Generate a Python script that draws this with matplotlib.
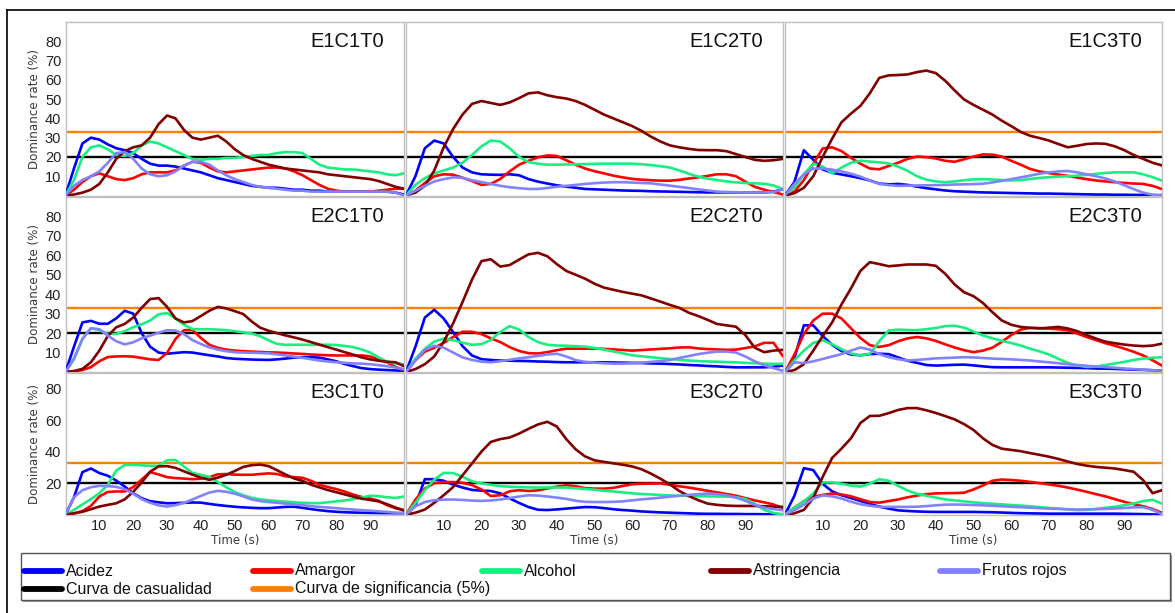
import matplotlib
matplotlib.use("Agg")
import matplotlib.pyplot as plt
import numpy as np
from matplotlib.lines import Line2D
from matplotlib.patches import Rectangle

plt.rcParams["font.family"] = ["Liberation Sans", "DejaVu Sans"]

# sampling grid of the TDS curves (s)
TIME = np.arange(0, 100.1, 2.5)

ATTRIBUTES = ["Acidez", "Amargor", "Alcohol", "Astringencia", "Frutos rojos"]
COLORS = ["#0000ff", "#ff0000", "#19ee80", "#800000", "#8282ff"]
CHANCE_LEVEL = 20
SIGNIF_LEVEL = 33
CHANCE_LABEL = "Curva de casualidad"
SIGNIF_LABEL = "Curva de significancia (5%)"

Y_TICKS_FULL = [10, 20, 30, 40, 50, 60, 70, 80]
Y_TICKS_SHORT = [20, 40, 60, 80]
X_TICKS = [10, 20, 30, 40, 50, 60, 70, 80, 90]

# dominance rate (%) per attribute, one value every 2.5 s from 0 to 100 s
E1C1T0 = {
  "Acidez": [0, 14, 27, 30, 29, 26.5, 24.5, 23.5, 22, 19, 16.5, 15.5, 15.5, 15, 14, 13, 12, 10.5, 9, 8, 7, 6, 5, 4.5, 4, 4, 3.5, 3, 3, 2.5, 2.5, 2, 2, 2, 2, 2, 2, 2, 2, 1.5, 0.5],
  "Amargor": [0, 3, 7, 10, 11.5, 10, 8.5, 8, 9, 11, 12, 12, 12, 13, 15.5, 17.5, 17, 14.5, 12.5, 12, 12.5, 13, 13.5, 14, 14.5, 14.5, 14, 12.5, 10.5, 8, 5.5, 3.5, 2.5, 2, 2, 2, 2, 2.5, 3, 3.5, 3.5],
  "Alcohol": [0, 8, 20, 25, 26, 24, 21, 20.5, 22, 26, 28, 27, 25, 23, 21, 19, 18.5, 19, 19, 19.5, 19.5, 20, 20.5, 21, 21, 22, 22.5, 22.5, 22, 19, 16, 14.5, 14, 13.5, 13.5, 13, 12.5, 12, 11, 10.5, 11.5],
  "Astringencia": [0, 0.5, 1.5, 3, 6, 12, 19, 23, 25, 26, 30, 37, 41.5, 40, 34, 30, 29, 30, 31, 28, 24, 21, 19, 17.5, 16, 15, 14, 13.5, 13, 12.5, 12, 11, 10.5, 10, 9.5, 9, 8.5, 7.5, 6, 4.5, 3.5],
  "Frutos rojos": [0, 5, 8, 10, 12.5, 17, 22, 22.5, 19, 14, 11, 10, 10.5, 12.5, 15.5, 17.5, 17.5, 16, 13, 10.5, 8.5, 7, 5.5, 4.5, 4, 3.5, 3, 2.5, 2.5, 2, 2, 2, 2, 2, 2, 2, 2, 2, 2, 1.5, 0],
}
E1C2T0 = {
  "Acidez": [0, 10, 24.5, 28.5, 27, 20, 14.5, 12, 11, 10.8, 10.7, 11, 10.5, 8.5, 7.2, 6.2, 5.3, 4.6, 4, 3.4, 3.2, 3, 2.8, 2.6, 2.5, 2.4, 2.2, 2.1, 2, 1.9, 1.8, 1.7, 1.6, 1.6, 1.6, 1.6, 1.6, 1.6, 1.6, 2, 3.3],
  "Amargor": [0, 2.5, 6.5, 10, 11, 10.8, 9.2, 7.5, 5.5, 6, 8.6, 12.5, 16, 18, 19.8, 20.8, 20.5, 18.3, 16, 14, 12.6, 11.5, 10.3, 9.4, 8.6, 8.2, 7.9, 7.7, 7.7, 8.1, 8.8, 9.4, 10.2, 11, 11, 10, 7.2, 4.5, 3, 1.8, 0.5],
  "Alcohol": [0, 5.5, 9, 11.5, 13, 14.5, 17, 21, 25.5, 28.5, 28, 24.5, 20, 17.3, 16.5, 16, 16, 16.1, 16.2, 16.3, 16.4, 16.5, 16.5, 16.5, 16.5, 16.2, 15.8, 15.2, 14.5, 13, 11.3, 9.8, 8.8, 8, 7.3, 6.8, 6.5, 6.3, 6.1, 5.2, 3.3],
  "Astringencia": [0, 1.5, 5, 13, 25, 34.5, 42, 47.5, 49, 48, 47, 48.3, 50.5, 53, 53.5, 52, 51, 50.3, 49, 47, 44.5, 42, 40, 38, 36, 33.5, 30.5, 28, 26, 25, 24.2, 23.6, 23.5, 23.5, 23, 21.5, 20, 18.5, 18, 18.3, 19],
  "Frutos rojos": [0, 2.5, 5, 7.3, 8.5, 9.4, 9.2, 7.9, 7, 6, 5, 4.3, 3.8, 3.4, 3.4, 3.9, 4.5, 5, 5.5, 6, 6.4, 6.7, 6.9, 6.9, 6.7, 6.5, 6.3, 5.7, 5.1, 4.5, 3.9, 3.2, 2.6, 2, 1.8, 1.7, 1.6, 1.6, 1.6, 1.8, 3.3],
}
E1C3T0 = {
  "Acidez": [0, 7, 23.5, 18.5, 13.5, 11.8, 10.9, 10, 9, 7.8, 6.2, 5.8, 6, 5.5, 4.6, 3.8, 3.2, 2.6, 2.2, 2, 1.8, 1.6, 1.5, 1.4, 1.3, 1.2, 1.1, 1, 1, 0.9, 0.8, 0.7, 0.6, 0.5, 0.5, 0.4, 0.4, 0.3, 0.3, 0.2, 0.2],
  "Amargor": [0, 2, 8, 16.5, 24.4, 25, 23, 19.5, 16.5, 14, 13.6, 15.3, 17, 19, 20.2, 19.9, 19.2, 18, 17.5, 18.8, 20.2, 21.3, 21.2, 20.2, 18, 16, 13.8, 12.5, 11.6, 10.8, 10.2, 9.3, 8.5, 7.8, 7.3, 6.9, 6.5, 6.2, 6, 5, 3.3],
  "Alcohol": [0, 4, 11, 16.5, 15, 11.5, 14.5, 17, 18, 17.6, 17.2, 16.6, 15, 12.8, 10, 8.2, 7.3, 6.9, 7.3, 7.9, 8.4, 8.5, 8.3, 8, 7.8, 8, 8.6, 9.1, 9.5, 9.8, 10, 10.3, 10.7, 11.2, 11.7, 12, 12, 12, 11, 9.5, 7.7],
  "Astringencia": [0, 1.2, 4, 10, 20, 29.5, 38, 42.5, 46.5, 53, 61, 62.3, 62.5, 62.8, 64, 64.8, 63.5, 59.5, 54.5, 49.8, 47, 44.5, 42, 38.8, 36, 33, 31, 29.8, 28.5, 26.7, 25, 25.8, 26.7, 27, 26.8, 25.5, 23.5, 21, 19, 17, 15.6],
  "Frutos rojos": [0, 6, 11, 14, 14, 13.4, 12.5, 11.3, 9.8, 7.8, 6, 5.4, 5, 5.1, 5.2, 5.3, 5.4, 5.5, 5.7, 5.8, 5.9, 6.1, 6.8, 7.6, 8.5, 9.4, 10.3, 11.3, 12, 12.5, 12.7, 12, 11, 10, 8.8, 7.3, 5.3, 3.3, 1.5, 0.4, 0],
}
E2C1T0 = {
  "Acidez": [0, 13, 25.5, 26.3, 24.8, 24.8, 27.6, 31.5, 30, 20, 13, 10, 9.4, 9.8, 10.2, 10, 9.3, 8.6, 8, 7.2, 6.8, 6.6, 6.4, 6.3, 6.2, 6.5, 6.9, 7.4, 7.6, 7.6, 7.4, 6.5, 5.5, 4.1, 3, 2, 1.5, 1.2, 1, 0.8, 0.5],
  "Amargor": [0, 0.3, 1, 2.5, 5.5, 7.7, 8, 8.1, 7.9, 7.2, 6.5, 6.2, 9.8, 17, 21.5, 21.7, 17.5, 14, 12.4, 11.5, 11, 10.7, 10.5, 10.3, 10.1, 10, 9.8, 9.5, 9.3, 9, 8.8, 8.6, 8.5, 8.5, 8.5, 8.5, 8, 6.5, 5, 2.6, 1],
  "Alcohol": [0, 6.5, 17, 22.5, 21.5, 19.6, 19.6, 21, 23, 24.5, 26.5, 29.7, 30.3, 27.5, 24.3, 22.1, 22, 22, 21.8, 21.5, 21, 20.4, 19.8, 18.4, 16.3, 14.4, 14, 14, 14, 14, 14, 14, 13.9, 13.4, 12.8, 11.6, 10, 7.5, 5.2, 4.4, 4],
  "Astringencia": [0, 0.5, 1.6, 5, 11, 18.5, 23, 24.7, 28, 33, 37.5, 38, 33.5, 27.5, 25.5, 26.2, 28.8, 31.5, 33.5, 32.7, 31.3, 29.8, 26, 22.8, 21.2, 20, 18.8, 17.8, 16.7, 15.4, 14.1, 12.8, 11.5, 10.2, 8.9, 7.5, 6.5, 5.8, 5.3, 5, 3],
  "Frutos rojos": [0, 7, 17, 22.5, 22, 18.7, 15.8, 14.2, 15.3, 17.3, 18.7, 20.2, 21.5, 21.3, 19.5, 16.4, 14.4, 12.7, 11.5, 10.7, 10.2, 10, 9.9, 9.8, 9.6, 9.1, 8.5, 7.9, 7.3, 6.6, 5.9, 5.4, 5, 4.7, 4.4, 4.3, 4, 3.5, 3, 2.3, 1.5],
}
E2C2T0 = {
  "Acidez": [0, 13, 28, 32, 27.5, 20.5, 13.3, 8.5, 6.6, 6.2, 5.9, 5.8, 5.7, 5.6, 5.4, 5.3, 5.1, 5, 5, 5, 5, 5, 4.9, 4.8, 4.7, 4.6, 4.4, 4.3, 4.1, 3.9, 3.6, 3.4, 3.1, 2.9, 2.6, 2.4, 2.4, 2.4, 2.4, 2.7, 3.3],
  "Amargor": [0, 6, 10.5, 12.5, 15, 18, 20.7, 20.7, 19.5, 17.3, 15.4, 12.8, 10.8, 9.7, 9.5, 10.2, 11.2, 12, 12, 12, 12, 11.9, 11.6, 11.3, 11, 11.3, 11.6, 11.9, 12.2, 12.6, 12.7, 12.1, 11.8, 11.6, 11.4, 11.5, 12.3, 13.2, 15, 15, 8],
  "Alcohol": [0, 6.8, 12, 15.6, 17.2, 16.3, 15.1, 14, 14.3, 16.5, 20.6, 23.6, 21.8, 18, 15.4, 14, 13.6, 13.5, 13.3, 13, 12.4, 11.5, 10.6, 9.6, 8.6, 8.1, 7.6, 7.1, 6.7, 6.3, 5.9, 5.6, 5.4, 5.3, 5.1, 5, 4.7, 4.5, 4.3, 4.2, 4.2],
  "Astringencia": [0, 1.5, 4, 8, 15.5, 25, 36, 47.5, 57, 58, 54.2, 55, 57.8, 60.5, 61.3, 59.5, 55.5, 52, 50, 48, 45.4, 43.4, 42.3, 41.2, 40.3, 39.4, 37.8, 36.2, 34.5, 33, 30.5, 28.8, 26.8, 24.7, 24, 23.3, 19, 12.5, 10.2, 11, 11.4],
  "Frutos rojos": [0, 6, 11.5, 13.5, 12.5, 10, 7.5, 6.2, 5.3, 5, 5.5, 6.3, 7, 7.6, 8.3, 9, 9.4, 8, 6.1, 5.2, 4.8, 4.5, 4.3, 4.3, 4.5, 4.8, 5.2, 5.6, 6.2, 7.2, 8.2, 9.2, 9.9, 10.5, 10.5, 10, 8, 5.5, 3.5, 2, 0.6],
}
E2C3T0 = {
  "Acidez": [0, 7, 24, 24, 18.5, 14, 10.7, 9, 8.6, 9.2, 9.4, 9.2, 7.5, 5.8, 4.7, 3.6, 3.3, 3.5, 3.7, 3.8, 3.4, 2.9, 2.5, 2.4, 2.4, 2.4, 2.4, 2.4, 2.4, 2.3, 2.2, 2.1, 2, 1.8, 1.7, 1.6, 1.4, 1.2, 1.1, 0.9, 0.7],
  "Amargor": [0, 9, 19.5, 26.5, 30, 30, 27.5, 22.5, 17.5, 13.8, 12.9, 13.8, 15.8, 17.3, 18, 17.3, 16, 14.2, 12.6, 11.2, 10.2, 11, 12.5, 15.5, 19, 21.8, 22.7, 22.6, 22.3, 22, 21.4, 19.8, 18, 16.4, 14.8, 13.5, 12, 10.4, 8.5, 6, 3.3],
  "Alcohol": [0, 6, 11, 15, 16.3, 14.3, 11.7, 9.5, 8.5, 9.4, 15.8, 21.3, 21.8, 21.6, 21.5, 22, 22.6, 23.6, 23.8, 22.8, 20.8, 18.8, 17.3, 16, 14.9, 13.6, 12, 10.6, 9, 6.8, 4.7, 3.4, 2.6, 2.7, 3.6, 4.4, 5.2, 6.2, 6.9, 7.3, 7.6],
  "Astringencia": [0, 1, 4, 11, 18.5, 25.5, 34.8, 43, 52, 56.5, 55.5, 54.4, 54.8, 55.3, 55.3, 55.3, 54.6, 50.5, 45, 41, 39, 35.5, 30.8, 26.5, 24.3, 23.2, 22.7, 22.4, 22.8, 23.2, 22.4, 21, 19, 17.2, 15.6, 14.8, 14.1, 13.6, 13.3, 13.6, 14.6],
  "Frutos rojos": [0, 5, 4.6, 5.5, 6.7, 8, 9.2, 11, 12.6, 11.5, 9.2, 7.6, 6.6, 5.9, 6.2, 6.6, 7, 7.2, 7.4, 7.6, 7.5, 7.2, 6.9, 6.7, 6.5, 6.2, 5.9, 5.4, 5, 4.5, 4, 3.6, 3.2, 2.8, 2.5, 2.2, 1.8, 1.5, 1.2, 0.9, 0.7],
}
E3C1T0 = {
  "Acidez": [0, 11, 27, 29.3, 26.4, 24.7, 21.6, 17.8, 13.6, 10.4, 8.5, 7.8, 7.2, 7.3, 7.5, 7.7, 7.6, 6.8, 6.1, 5.5, 5, 4.6, 4.3, 4.1, 4.1, 4.5, 4.9, 5, 4.3, 3.5, 2.8, 2.2, 1.8, 1.5, 1.3, 1.2, 1.1, 1, 1, 0.9, 0.9],
  "Amargor": [0, 0.8, 2.2, 5.5, 11.5, 14.4, 14.7, 14.7, 17.5, 22.3, 27, 25.5, 23.8, 23.2, 22.9, 22.5, 22.8, 23.8, 25.6, 25.8, 25.4, 25.3, 25.3, 25.8, 26.2, 25.8, 24.3, 23.8, 23.4, 21.5, 19, 17.5, 16.2, 14.6, 12.7, 11.2, 10.2, 8.8, 6, 4, 3],
  "Alcohol": [0, 3, 6.5, 9.8, 13.6, 19, 28, 31.5, 31.7, 31.3, 31, 31, 34.5, 34.8, 30.5, 26.5, 25.3, 23.9, 20.8, 17.4, 14.3, 12.3, 10.6, 9.7, 9.1, 8.6, 8.2, 7.8, 7.5, 7.3, 7.3, 7.8, 8.4, 9, 9.8, 10.8, 12, 11.7, 11, 10.6, 11.5],
  "Astringencia": [0, 0.8, 1.8, 3.4, 5.1, 6.2, 7.2, 9.7, 14.5, 20.4, 27.3, 30.6, 30.8, 29.7, 27.5, 25.4, 23.5, 22.1, 23.5, 25.3, 27.7, 30.3, 31.4, 31.8, 30.8, 28.2, 25.5, 23, 21.5, 19, 17.3, 15.6, 14.2, 12.8, 11.4, 10.1, 9.3, 8.4, 6.6, 4.5, 2.5],
  "Frutos rojos": [0, 11, 15.5, 17.4, 18.3, 18.1, 17.6, 16.2, 13.3, 9.8, 7.5, 5.9, 5.1, 6, 7.4, 9.6, 11.9, 14, 15.1, 14.5, 13.3, 11.6, 9.6, 8.6, 8, 7.5, 7, 6.5, 6, 5.4, 4.9, 4.5, 4.1, 3.6, 3.2, 2.8, 2.5, 2.1, 1.7, 1.2, 0.9],
}
E3C2T0 = {
  "Acidez": [0, 6, 22.5, 22.5, 21.5, 19, 17.2, 15.7, 15.2, 15, 13.5, 10.3, 7.4, 4.8, 3.1, 2.9, 3.3, 3.8, 4.3, 4.8, 4.7, 4.1, 3.4, 2.9, 2.5, 2, 1.7, 1.4, 1.2, 1, 0.8, 0.6, 0.5, 0.5, 0.4, 0.4, 0.3, 0.3, 0.2, 0.2, 0.2],
  "Amargor": [0, 9.5, 16.5, 20, 20.6, 20.7, 20.2, 18.8, 16, 11.8, 12.3, 14.8, 15.5, 15, 15.4, 16.6, 17.8, 18.7, 18, 16.8, 16.5, 16.5, 17, 18.2, 19.3, 19.6, 19.7, 19.8, 19, 18, 17.2, 16.2, 15.1, 14.1, 13.1, 12, 10.5, 9, 7.8, 6.4, 4],
  "Alcohol": [0, 7.5, 15.5, 22.3, 26.5, 26.4, 24, 21.2, 19.8, 18.9, 18.1, 17.7, 17.5, 17.3, 17.2, 17.2, 17.2, 17.2, 16.8, 16.3, 15.8, 15.2, 14.7, 14.1, 13.5, 13.1, 12.8, 12.5, 12.2, 12, 11.9, 11.7, 11.6, 11.5, 11.4, 11.1, 9.9, 7, 3, 1, 0.2],
  "Astringencia": [0, 1.2, 3.2, 7.5, 12.3, 17.5, 25, 32.5, 40, 46.2, 48, 49, 51.5, 54.5, 57.3, 59, 56, 48, 41.5, 37, 34.5, 33.5, 32.6, 31.7, 30.6, 28.8, 26, 22.8, 19.2, 15, 11.8, 9.2, 7, 6.2, 5.7, 5.5, 5.5, 5.5, 5.3, 5.1, 4.9],
  "Frutos rojos": [0, 5.2, 8, 9.1, 9.5, 9.6, 9.3, 8.9, 8.7, 9, 9.6, 10.5, 11.5, 12.3, 12.1, 11.5, 10.8, 10, 8.8, 8.1, 8, 8, 8.1, 8.4, 9.1, 9.7, 10.2, 10.8, 11.4, 12, 12.5, 13, 13.4, 13, 12.3, 10.8, 8.8, 6.2, 4.4, 3.5, 2.8],
}
E3C3T0 = {
  "Acidez": [0, 12, 29.5, 28.3, 19.5, 14.8, 12.3, 10.5, 8.7, 6.8, 5.1, 3.8, 2.7, 2.3, 2, 1.8, 1.7, 1.7, 1.7, 1.7, 1.7, 1.6, 1.5, 1.3, 1.1, 0.9, 0.8, 0.7, 0.6, 0.6, 0.6, 0.6, 0.6, 0.6, 0.6, 0.6, 0.5, 0.4, 0.3, 0.1, 0],
  "Amargor": [0, 4.5, 8.5, 11.3, 12.5, 13.4, 12.8, 11.6, 9.8, 8, 7.6, 8.6, 9.6, 11, 12.1, 13, 13.5, 13.6, 13.7, 13.9, 16, 18.5, 21.5, 22.3, 22, 21.5, 20.8, 20, 19.2, 18.3, 17.2, 15.9, 14.5, 13, 11.6, 9.8, 8.1, 6.6, 5.3, 3.5, 1.1],
  "Alcohol": [0, 4.5, 8.5, 13.4, 20.5, 20.5, 19.6, 18.5, 17.8, 19.7, 22.5, 21.5, 18.3, 15.3, 13.2, 12, 10.8, 9.7, 9, 8.4, 7.8, 7.3, 6.9, 6.5, 6.1, 5.7, 5.3, 4.7, 4.2, 3.8, 3.3, 2.9, 3, 3.6, 4.3, 5, 6, 7, 8.6, 9.4, 7],
  "Astringencia": [0, 0.8, 3, 10.5, 24, 36, 42, 48.5, 58.2, 62.7, 62.8, 64.5, 66.5, 67.7, 67.7, 66.3, 64.6, 62.6, 60.5, 57.5, 53.8, 48.5, 44.3, 41.9, 41.1, 40.3, 39.1, 38, 36.8, 35.4, 33.7, 32.2, 31.1, 30.3, 29.8, 29.3, 28.3, 27.2, 21.9, 13.6, 15.5],
  "Frutos rojos": [0, 2.8, 6.3, 10.2, 12.2, 11.6, 10.2, 8.2, 6.6, 5.6, 4.9, 4.9, 4.9, 4.9, 5, 5.4, 5.9, 6.3, 6.4, 6.3, 6.1, 5.9, 5.6, 5.3, 5, 4.7, 4.4, 4.1, 3.8, 3.6, 3.4, 3.2, 3.3, 3.4, 3.6, 3.9, 4.2, 4.6, 4.7, 3, 0.2],
}

PANELS = [
  [("E1C1T0", E1C1T0), ("E1C2T0", E1C2T0), ("E1C3T0", E1C3T0)],
  [("E2C1T0", E2C1T0), ("E2C2T0", E2C2T0), ("E2C3T0", E2C3T0)],
  [("E3C1T0", E3C1T0), ("E3C2T0", E3C2T0), ("E3C3T0", E3C3T0)],
]

# figure layout in pixels
W, H = 1175, 613
COL_PX = [(65.5, 404), (406, 783), (785, 1162)]
ROW_PX = [(22, 195.5), (197, 372), (373, 514.6)]


def px_rect(x0, y0, x1, y1):
  return [x0 / W, 1 - y1 / H, (x1 - x0) / W, (y1 - y0) / H]


fig = plt.figure(figsize=(W / 100, H / 100), dpi=100)

for r, row in enumerate(PANELS):
  for c, (name, series) in enumerate(row):
    x0, x1 = COL_PX[c]
    y0, y1 = ROW_PX[r]
    ax = fig.add_axes(px_rect(x0, y0, x1, y1))
    wpx, hpx = x1 - x0, y1 - y0

    ax.axhline(SIGNIF_LEVEL, color="#ff8000", lw=1.7, zorder=2)
    ax.axhline(CHANCE_LEVEL, color="black", lw=1.7, zorder=2)
    for attr, color in zip(ATTRIBUTES, COLORS):
      vals = series[attr]
      if len(vals) != len(TIME):
        raise ValueError(f"{name}/{attr}: {len(vals)} values")
      ax.plot(TIME, vals, color=color, lw=1.9, zorder=3,
              solid_capstyle="round", solid_joinstyle="round")

    ax.set_xlim(0, 100)
    ax.set_ylim(0, 90)
    for sp in ax.spines.values():
      sp.set_color("#c0c0c0")
      sp.set_linewidth(1.0)

    ax.set_yticks(Y_TICKS_SHORT if r == 2 else Y_TICKS_FULL)
    ax.set_xticks(X_TICKS)
    ax.tick_params(length=0, labelsize=10.5, pad=3, colors="#222222",
                   labelleft=(c == 0), labelbottom=(r == 2))

    ax.annotate(name, xy=(1, 1), xycoords="axes fraction",
                xytext=(-20 * 0.72, -10 * 0.72), textcoords="offset points",
                ha="right", va="top", fontsize=14.5, color="#111111")

    if c == 0:
      ax.text(-31 / wpx, 0.5, "Dominance rate (%)", transform=ax.transAxes,
              rotation=90, ha="center", va="center", fontsize=8.6,
              family="DejaVu Sans", color="#3a3a3a")
    if r == 2:
      ax.text(0.5, -25.5 / hpx, "Time (s)", transform=ax.transAxes,
              ha="center", va="center", fontsize=8.6,
              family="DejaVu Sans", color="#3a3a3a")

# outer frame (top and left edges)
fig.add_artist(Line2D([7 / W, 1], [1 - 10 / H, 1 - 10 / H], color="black", lw=1.2))
fig.add_artist(Line2D([7 / W, 7 / W], [1 - 10 / H, 0], color="black", lw=1.2))

# legend box with a small drop shadow
lx0, ly0, lx1, ly1 = 21, 553, 1170, 600
fig.add_artist(Rectangle(((lx0 + 2) / W, 1 - (ly1 + 2) / H), (lx1 - lx0) / W, (ly1 - ly0) / H,
                         transform=fig.transFigure, facecolor="#9a9a9a", edgecolor="none"))
fig.add_artist(Rectangle((lx0 / W, 1 - ly1 / H), (lx1 - lx0) / W, (ly1 - ly0) / H,
                         transform=fig.transFigure, facecolor="white", edgecolor="#555555", lw=1))

legend_rows = [
  list(zip(ATTRIBUTES, COLORS)),
  [(CHANCE_LABEL, "black"), (SIGNIF_LABEL, "#ff8000")],
]
LEG_X = [24, 253, 482, 711, 940]
LEG_Y = [571, 589]
for i, entries in enumerate(legend_rows):
  yy = 1 - LEG_Y[i] / H
  for j, (label, color) in enumerate(entries):
    hx = LEG_X[j]
    fig.add_artist(Line2D([hx / W, (hx + 38) / W], [yy, yy], color=color, lw=4.2,
                          solid_capstyle="round"))
    fig.text((hx + 42) / W, yy, label, ha="left", va="center", fontsize=11.5,
             family=["Liberation Sans Narrow", "Liberation Sans", "DejaVu Sans"],
             color="#111111")

fig.savefig("out.png", dpi=100)
